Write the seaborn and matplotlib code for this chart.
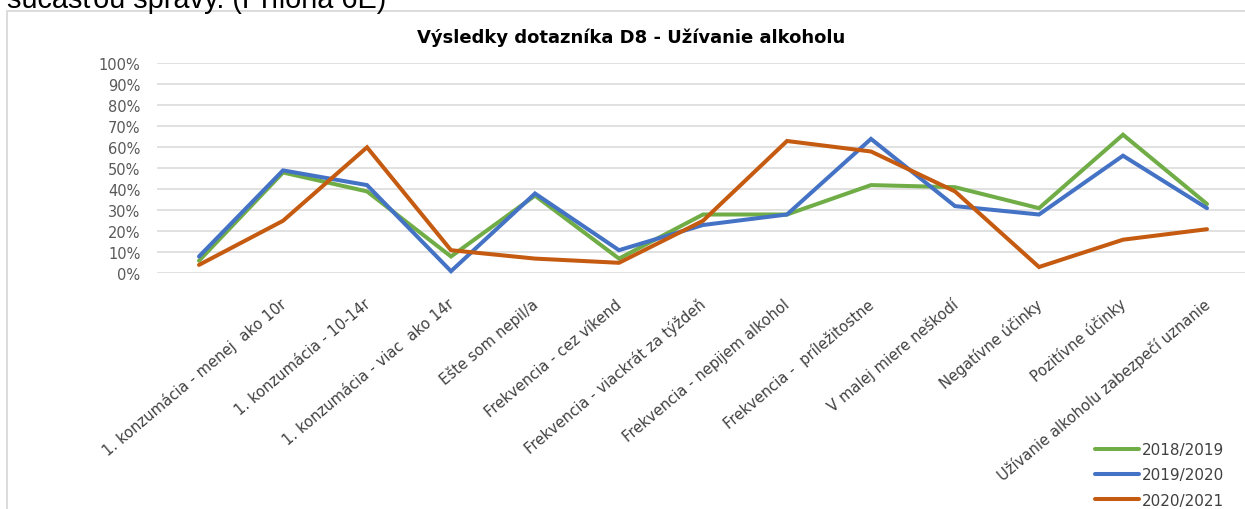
import matplotlib
matplotlib.use("Agg")
import matplotlib.pyplot as plt
import seaborn as sns
import pandas as pd
from matplotlib.patches import Rectangle
from matplotlib.transforms import ScaledTranslation
from matplotlib.ticker import PercentFormatter, MultipleLocator

categories = [
    " ",
    "1. konzumácia - menej  ako 10r",
    "1. konzumácia - 10-14r",
    "1. konzumácia - viac  ako 14r",
    "Ešte som nepil/a",
    "Frekvencia - cez víkend",
    "Frekvencia - viackrát za týždeň",
    "Frekvencia - nepijem alkohol",
    "Frekvencia -  príležitostne",
    "V malej miere neškodí",
    "Negatívne účinky",
    "Pozitívne účinky",
    "Užívanie alkoholu zabezpečí uznanie",
]
series_names = ["2018/2019", "2019/2020", "2020/2021"]
values_2018_2019 = [0.06, 0.48, 0.39, 0.08, 0.37, 0.07, 0.28, 0.28, 0.42, 0.41, 0.31, 0.66, 0.33]
values_2019_2020 = [0.08, 0.49, 0.42, 0.01, 0.38, 0.11, 0.23, 0.28, 0.64, 0.32, 0.28, 0.56, 0.31]
values_2020_2021 = [0.04, 0.25, 0.60, 0.11, 0.07, 0.05, 0.25, 0.63, 0.58, 0.39, 0.03, 0.16, 0.21]
colors = ["#70AD47", "#4472C4", "#C55A11"]
title = "Výsledky dotazníka D8 - Užívanie alkoholu"
top_text = "súčasťou správy. (Príloha 6E)"

rows = []
for name, vals in zip(series_names, [values_2018_2019, values_2019_2020, values_2020_2021]):
    for c, v in zip(categories, vals):
        rows.append({"Kategória": c, "Podiel": v, "Rok": name})
df = pd.DataFrame(rows)

sns.set_theme(style="white")
plt.rcParams["font.family"] = ["DejaVu Sans"]

W, H = 1245, 510
fig = plt.figure(figsize=(W / 100, H / 100), dpi=100)
fig.patch.set_facecolor("white")

ax = fig.add_axes([157 / W, 1 - 274.3 / H, (1249 - 157) / W, (274.3 - 64.3) / H])

sns.lineplot(data=df, x="Kategória", y="Podiel", hue="Rok", palette=colors,
             hue_order=series_names, sort=False, linewidth=2.9, ax=ax, legend=True)
for ln in ax.lines:
    ln.set_clip_on(False)
    ln.set_solid_joinstyle("miter")

ax.set_xlim(-0.5, len(categories) - 0.5)
ax.set_ylim(0, 1)
ax.yaxis.set_major_locator(MultipleLocator(0.1))
ax.yaxis.set_major_formatter(PercentFormatter(1.0, decimals=0))
ax.grid(axis="y", color="#D9D9D9", linewidth=1.1)
ax.grid(axis="x", visible=False)
ax.set_axisbelow(True)
for s in ax.spines.values():
    s.set_visible(False)
ax.set_xlabel("")
ax.set_ylabel("")
ax.tick_params(axis="y", length=0, pad=12, labelsize=10.5, labelcolor="#595959")
ax.tick_params(axis="x", length=0, pad=20.5, labelsize=10.6, labelcolor="#404040")

ax.set_xticks(range(len(categories)))
ax.set_xticklabels(categories, rotation=40, ha="right", va="center", rotation_mode="anchor")
off = ScaledTranslation(1 / 100, 0, fig.dpi_scale_trans)
for lbl in ax.get_xticklabels():
    lbl.set_transform(lbl.get_transform() + off)

handles, labels = ax.get_legend_handles_labels()
ax.get_legend().remove()
leg = fig.legend(handles, labels, loc="upper left",
                 bbox_to_anchor=(1095 / W, 1 - 443 / H), frameon=False,
                 borderpad=0, borderaxespad=0, handlelength=2.9,
                 handletextpad=0.2, labelspacing=0.68, fontsize=11)
for t in leg.get_texts():
    t.set_color("#404040")
for h in leg.legend_handles:
    h.set_linewidth(2.9)

fig.text(631 / W, 1 - 38 / H, title, ha="center", va="center",
         fontsize=13, fontweight="bold", color="black")

fig.text(7 / W, 1 - 7.5 / H, top_text, ha="left", va="baseline",
         fontsize=20.8, family="Liberation Sans", color="black")

fig.patches.append(Rectangle((7 / W, -0.1), 1.2, (1 - 11.7 / H) + 0.1,
                             transform=fig.transFigure, fill=False,
                             edgecolor="#D9D9D9", linewidth=1.3))

fig.savefig("out.png", dpi=100)
